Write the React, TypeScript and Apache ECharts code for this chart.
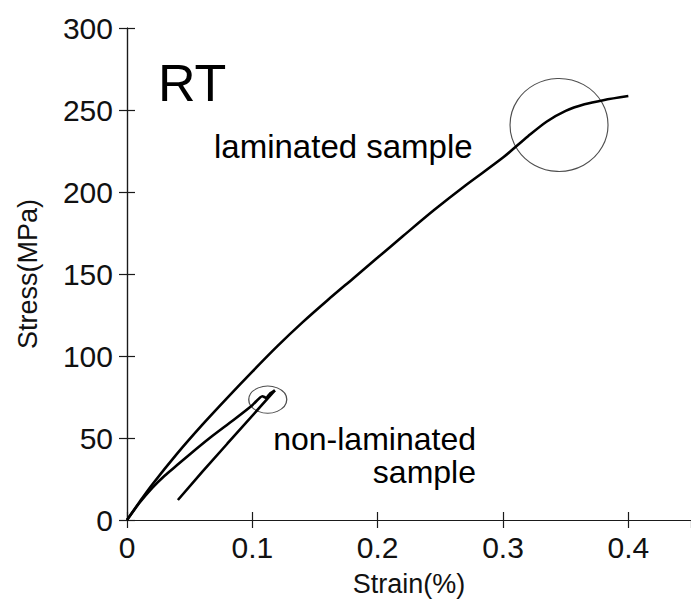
import React, { useEffect, useRef } from "react";
import * as echarts from "echarts";

// Laminated sample (strain %, stress MPa)
const strainLam = [0, 0.01, 0.02, 0.04, 0.06, 0.08, 0.1, 0.12, 0.14, 0.16, 0.18, 0.2, 0.22, 0.245, 0.27, 0.3, 0.32, 0.335, 0.35, 0.365, 0.38, 0.4];
const stressLam = [0, 11, 21.5, 40.5, 58, 74.5, 90.5, 106, 120.5, 134, 147, 160, 173, 189, 204, 221, 234, 243, 249.5, 253.5, 256, 258.5];

// Non-laminated sample: loading
const strainNonLoad = [0, 0.01, 0.02, 0.03, 0.04, 0.05, 0.066, 0.085, 0.1, 0.108, 0.111, 0.114, 0.118];
const stressNonLoad = [0, 10.5, 19.5, 27, 33.5, 40, 50, 61, 70, 75.5, 74.5, 77, 79];
// Non-laminated sample: unloading
const strainNonUnload = [0.118, 0.08, 0.06, 0.0406];
const stressNonUnload = [79, 46.5, 29.3, 12.2];

// Highlight circles (centre strain, centre stress)
const circleStrain = [0.3447, 0.1123];
const circleStress = [240.9, 73.4];

const FONT = "'Liberation Sans', Arial, sans-serif";

export default function App() {
  const ref = useRef<HTMLDivElement>(null);
  useEffect(() => {
    if (!ref.current) return;
    const chart = echarts.init(ref.current, undefined, { renderer: "svg" });
    const lam = strainLam.map((x, i) => [x, stressLam[i]]);
    const nonLoad = strainNonLoad.map((x, i) => [x, stressNonLoad[i]]);
    const nonUnload = strainNonUnload.map((x, i) => [x, stressNonUnload[i]]);
    const axisLine = { show: true, lineStyle: { color: "#1a1a1a", width: 1.2 } };
    const tick = { show: true, inside: true, length: 8, lineStyle: { color: "#1a1a1a", width: 1.2 } };
    chart.setOption({
      animation: false,
      backgroundColor: "#ffffff",
      grid: { left: 127, top: 28, right: -5, bottom: 85, containLabel: false },
      xAxis: [
        {
          type: "value",
          min: 0,
          max: 0.45,
          interval: 0.1,
          position: "bottom",
          name: "Strain(%)",
          nameLocation: "middle",
          nameGap: 50,
          nameTextStyle: { fontFamily: FONT, fontSize: 27, color: "#111" },
          axisLine,
          axisTick: tick,
          splitLine: { show: false },
          axisLabel: { fontFamily: FONT, fontSize: 30, color: "#111", margin: 12, showMaxLabel: false },
        },
        {
          type: "value",
          min: 0,
          max: 0.45,
          interval: 0.1,
          position: "top",
          axisLine,
          axisTick: tick,
          splitLine: { show: false },
          axisLabel: { show: false },
        },
      ],
      yAxis: [
        {
          type: "value",
          min: 0,
          max: 300,
          interval: 50,
          position: "left",
          name: "Stress(MPa)",
          nameLocation: "middle",
          nameGap: 86,
          nameRotate: 90,
          nameTextStyle: { fontFamily: FONT, fontSize: 27, color: "#111" },
          axisLine,
          axisTick: tick,
          splitLine: { show: false },
          axisLabel: { fontFamily: FONT, fontSize: 30, color: "#111", margin: 14, padding: [0, 0, 8, 0] },
        },
        {
          type: "value",
          min: 0,
          max: 300,
          interval: 50,
          position: "right",
          axisLine,
          axisTick: tick,
          splitLine: { show: false },
          axisLabel: { show: false },
        },
      ],
      series: [
        {
          name: "laminated sample",
          type: "line",
          data: lam,
          showSymbol: false,
          smooth: 0.3,
          lineStyle: { color: "#000", width: 2.6 },
          z: 3,
        },
        {
          name: "non-laminated sample",
          type: "line",
          data: nonLoad,
          showSymbol: false,
          smooth: 0.2,
          lineStyle: { color: "#000", width: 2.6 },
          z: 3,
        },
        {
          name: "non-laminated unloading",
          type: "line",
          data: nonUnload,
          showSymbol: false,
          lineStyle: { color: "#000", width: 2.6 },
          z: 3,
        },
        {
          type: "scatter",
          data: [
            { value: [circleStrain[0], circleStress[0]], symbolSize: [98, 93] },
            { value: [circleStrain[1], circleStress[1]], symbolSize: [38, 27] },
          ],
          symbol: "circle",
          itemStyle: { color: "rgba(0,0,0,0)", borderColor: "#222", borderWidth: 1.1 },
          silent: true,
          z: 2,
        },
      ],
      graphic: [
        {
          type: "text",
          left: 158,
          top: 57,
          style: { text: "RT", fontFamily: FONT, fontSize: 52, fill: "#000" },
        },
        {
          type: "text",
          x: 214,
          y: 146.5,
          style: { text: "laminated sample", fontFamily: FONT, fontSize: 33, fill: "#000", verticalAlign: "middle", align: "left" },
        },
        {
          type: "text",
          x: 476,
          y: 455.5,
          style: {
            text: "non-laminated\nsample",
            fontFamily: FONT,
            fontSize: 32,
            lineHeight: 33,
            fill: "#000",
            verticalAlign: "middle",
            align: "right",
          },
        },
      ],
    });
    return () => chart.dispose();
  }, []);
  return (
    <div
      ref={ref}
      style={{ position: "fixed", left: 0, top: 0, width: 691, height: 605, background: "#fff" }}
    />
  );
}
